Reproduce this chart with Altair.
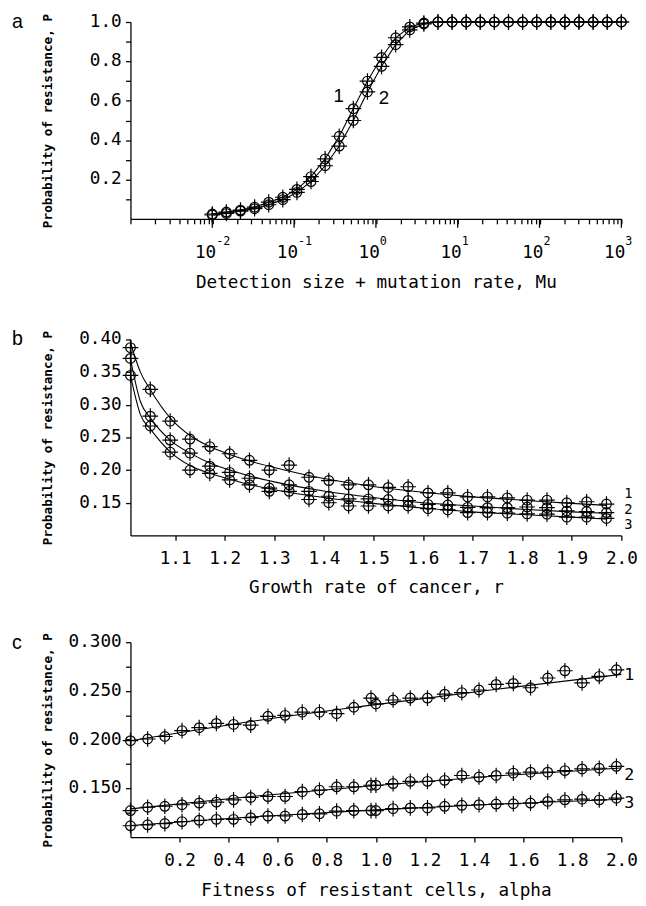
import altair as alt
import pandas as pd

FONT = "DejaVu Sans Mono"
W = 501

# ---------------- panel a ----------------
a_mu = [0.01, 0.01486, 0.02212, 0.0329, 0.04894, 0.07279, 0.1083, 0.161, 0.2395, 0.3562,
        0.5298, 0.788, 1.172, 1.743, 2.593, 3.857, 5.736, 8.532, 12.69, 18.87,
        28.07, 41.75, 62.1, 92.37, 137.4, 204.3, 303.9, 452.0, 672.3, 1000.0]
a_p1 = [0.025, 0.035, 0.045, 0.06, 0.085, 0.11, 0.15, 0.215, 0.305, 0.42,
        0.56, 0.70, 0.82, 0.92, 0.975, 0.995, 1.0, 1.0, 1.0, 1.0,
        1.0, 1.0, 1.0, 1.0, 1.0, 1.0, 1.0, 1.0, 1.0, 1.0]
a_p2 = [0.02, 0.028, 0.04, 0.052, 0.072, 0.098, 0.135, 0.19, 0.27, 0.37,
        0.50, 0.645, 0.775, 0.885, 0.96, 0.99, 1.0, 1.0, 1.0, 1.0,
        1.0, 1.0, 1.0, 1.0, 1.0, 1.0, 1.0, 1.0, 1.0, 1.0]
a_lab_text = ["1", "2"]
a_lab_mu = [0.35, 1.25]
a_lab_p = [0.625, 0.615]
a_decades = [0.01, 0.1, 1.0, 10.0, 100.0, 1000.0]
a_exps = ["-2", "-1", "0", "1", "2", "3"]
a_minor = [m * d for d in [0.001, 0.01, 0.1, 1, 10, 100] for m in range(1, 10)] + [1000.0]
a_yticks = [0.1, 0.2, 0.3, 0.4, 0.5, 0.6, 0.7, 0.8, 0.9, 1.0]
a_ylabels = [0.2, 0.4, 0.6, 0.8, 1.0]

# ---------------- panel b ----------------
b_r = [1.01, 1.05, 1.09, 1.13, 1.17, 1.21, 1.25, 1.29, 1.33, 1.37, 1.41, 1.45, 1.49,
       1.53, 1.57, 1.61, 1.65, 1.69, 1.73, 1.77, 1.81, 1.85, 1.89, 1.93, 1.97]
b_p1 = [0.3875, 0.3235, 0.275, 0.2475, 0.236, 0.225, 0.215, 0.200, 0.2075, 0.189, 0.184, 0.1775, 0.1775,
        0.1735, 0.1745, 0.165, 0.165, 0.159, 0.159, 0.1575, 0.154, 0.154, 0.150, 0.1515, 0.148]
b_p2 = [0.371, 0.2825, 0.246, 0.226, 0.206, 0.1965, 0.1875, 0.1725, 0.1775, 0.1675, 0.160, 0.156, 0.156,
        0.155, 0.1535, 0.1475, 0.1465, 0.143, 0.1425, 0.1425, 0.1435, 0.1425, 0.1375, 0.1365, 0.135]
b_p3 = [0.345, 0.2675, 0.2275, 0.200, 0.195, 0.185, 0.1775, 0.1675, 0.1675, 0.155, 0.150, 0.145, 0.145,
        0.145, 0.145, 0.141, 0.139, 0.135, 0.135, 0.134, 0.133, 0.1325, 0.128, 0.128, 0.126]
b_line_r = [1.01, 1.03, 1.05, 1.09, 1.13, 1.17, 1.21, 1.25, 1.3, 1.4, 1.5, 1.6, 1.7, 1.8, 1.9, 1.97]
b_line1 = [0.395, 0.35, 0.323, 0.28, 0.253, 0.236, 0.224, 0.214, 0.204, 0.187, 0.175, 0.166, 0.159, 0.154, 0.149, 0.146]
b_line2 = [0.37, 0.305, 0.28, 0.246, 0.226, 0.211, 0.2, 0.191, 0.182, 0.168, 0.158, 0.15, 0.145, 0.14, 0.136, 0.134]
b_line3 = [0.345, 0.285, 0.263, 0.228, 0.207, 0.195, 0.186, 0.178, 0.17, 0.158, 0.149, 0.142, 0.136, 0.132, 0.128, 0.125]
b_lab_text = ["1", "2", "3"]
b_lab_p = [0.164, 0.139, 0.116]
b_yticks = [0.15, 0.20, 0.25, 0.30, 0.35, 0.40]
b_xticks = [1.1, 1.2, 1.3, 1.4, 1.5, 1.6, 1.7, 1.8, 1.9, 2.0]

# ---------------- panel c ----------------
c_alpha = [0.0, 0.07, 0.14, 0.21, 0.28, 0.35, 0.42, 0.49, 0.56, 0.63, 0.70, 0.77, 0.84, 0.91, 0.98,
           1.0, 1.07, 1.14, 1.21, 1.28, 1.35, 1.42, 1.49, 1.56, 1.63, 1.70, 1.77, 1.84, 1.91, 1.98]
c_p1 = [0.199, 0.2007, 0.2033, 0.2093, 0.2123, 0.2167, 0.2157, 0.215, 0.224, 0.225, 0.2283, 0.2283, 0.2267, 0.2333, 0.2427,
        0.2367, 0.2407, 0.2427, 0.2427, 0.2467, 0.2483, 0.251, 0.2567, 0.2577, 0.2533, 0.2633, 0.2707, 0.2583, 0.265, 0.2717]
c_p2 = [0.1273, 0.1307, 0.1317, 0.1333, 0.135, 0.136, 0.1383, 0.1407, 0.1417, 0.1417, 0.1467, 0.1483, 0.1517, 0.1517, 0.1533,
        0.1533, 0.155, 0.1573, 0.1573, 0.1583, 0.1633, 0.1617, 0.1633, 0.1657, 0.1667, 0.1667, 0.1683, 0.17, 0.1707, 0.1727]
c_p3 = [0.1117, 0.1127, 0.114, 0.116, 0.1173, 0.1183, 0.1183, 0.12, 0.1217, 0.1217, 0.1233, 0.124, 0.1267, 0.1273, 0.1273,
        0.1273, 0.1293, 0.13, 0.13, 0.1317, 0.1327, 0.1333, 0.134, 0.1343, 0.135, 0.1367, 0.1383, 0.139, 0.1383, 0.14]
c_line_alpha = [0.0, 0.5, 1.0, 1.5, 2.0]
c_line1 = [0.199, 0.219, 0.236, 0.252, 0.267]
c_line2 = [0.129, 0.142, 0.153, 0.163, 0.171]
c_line3 = [0.112, 0.121, 0.128, 0.134, 0.139]
c_lab_text = ["1", "2", "3"]
c_lab_p = [0.2667, 0.1633, 0.135]
c_yticks = [0.125, 0.15, 0.175, 0.20, 0.225, 0.25, 0.275, 0.30]
c_ylabels = [0.15, 0.20, 0.25, 0.30]
c_xticks = [0.2, 0.4, 0.6, 0.8, 1.0, 1.2, 1.4, 1.6, 1.8, 2.0]

MARKER = ("M-0.62,0A0.62,0.62,0,1,0,0.62,0A0.62,0.62,0,1,0,-0.62,0"
          "M-1,0L1,0M0,-1L0,1")

AX_STYLE = dict(domainColor="black", tickColor="black", labelColor="black", titleColor="black",
                labelFont=FONT, titleFont=FONT, labelFontSize=18, domainWidth=1.3, tickWidth=1.3,
                grid=False, labelOverlap=False, labelFlush=False, labelBound=False)


def long_df(xs, series):
    rows = []
    for name, ys in series.items():
        for x, y in zip(xs, ys):
            rows.append({"x": x, "y": y, "s": name})
    return pd.DataFrame(rows)


def yaxis(values, H):
    return alt.Axis(values=values, labels=False, tickSize=5,
                    title="Probability of resistance, P", titleFontSize=13, titleFontWeight="bold",
                    titleX=-85, titleY=H / 2, titleAngle=270, titleBaseline="middle", titleAlign="center",
                    **AX_STYLE)


def xaxis(values, title, ty, labels=True, fmt=".1f"):
    kw = dict(values=values, tickSize=5, labelPadding=10, title=title, titleFontSize=18,
              titleFontWeight="normal", titleY=ty, titleBaseline="middle", titleAlign="center")
    if labels:
        kw["format"] = fmt
    else:
        kw["labels"] = False
    kw.update(AX_STYLE)
    return alt.Axis(**kw)


def panel(pts, lines, xs, ys, xax, yax, H, letter, letter_y, ylabel_vals, yfmt,
          series_lab=None, a_extra=False, interp="linear"):
    X = alt.X("x:Q", scale=xs, axis=xax)
    Y = alt.Y("y:Q", scale=ys, axis=yax)
    ln = alt.Chart(lines).mark_line(color="black", strokeWidth=1.1, interpolate=interp).encode(
        x=X, y=Y, detail="s:N")
    pt = alt.Chart(pts).mark_point(shape=MARKER, size=256, filled=False, color="black",
                                   strokeWidth=1.2, opacity=1).encode(x=X, y=Y, detail="s:N")
    let = alt.Chart(pd.DataFrame({"t": [letter]})).mark_text(
        font="Liberation Sans", fontSize=20, align="left", baseline="alphabetic", color="black").encode(
        text="t:N", x=alt.value(-121), y=alt.value(letter_y))
    ylab = alt.Chart(pd.DataFrame({"y": ylabel_vals})).mark_text(
        font=FONT, fontSize=18, align="right", baseline="middle", color="black").encode(
        x=alt.value(-9), y=Y, text=alt.Text("y:Q", format=yfmt))
    layers = [ln, pt, let, ylab]
    if series_lab is not None:
        txt, yv, fs = series_lab
        layers.append(alt.Chart(pd.DataFrame({"y": yv, "t": txt})).mark_text(
            font=FONT, fontSize=fs, align="left", baseline="middle", color="black").encode(
            x=alt.value(W + 3), y=Y, text="t:N"))
    if a_extra:
        dec_df = pd.DataFrame({"x": a_decades, "e": a_exps})
        layers.append(alt.Chart(dec_df).mark_rule(color="black", strokeWidth=1.3).encode(
            x=X, y=alt.value(H), y2=alt.value(H + 9)))
        layers.append(alt.Chart(dec_df).mark_text(font=FONT, fontSize=18, align="right",
                                                  baseline="middle", dx=4, color="black").encode(
            x=X, y=alt.value(H + 35), text=alt.value("10")))
        layers.append(alt.Chart(dec_df).mark_text(font=FONT, fontSize=12, align="left",
                                                  baseline="middle", dx=4, color="black").encode(
            x=X, y=alt.value(H + 23), text="e:N"))
        layers.append(alt.Chart(pd.DataFrame({"x": a_lab_mu, "y": a_lab_p, "t": a_lab_text})).mark_text(
            font="Liberation Sans", fontSize=19, baseline="middle", color="black").encode(
            x=X, y=Y, text="t:N"))
    return alt.layer(*layers).properties(width=W, height=H)


# ----- panel a
Ha = 201
xs_a = alt.Scale(type="log", domain=[0.001, 1000], nice=False)
ys_a = alt.Scale(domain=[0, 1], nice=False, zero=False)
pts_a = long_df(a_mu, {"1": a_p1, "2": a_p2})
chart_a = panel(pts_a, pts_a, xs_a, ys_a,
                xaxis(a_minor, "Detection size + mutation rate, Mu", 65, labels=False),
                yaxis(a_yticks, Ha), Ha, "a", 6, a_ylabels, ".1f", a_extra=True)

# ----- panel b
Hb = 200
xs_b = alt.Scale(domain=[1.01, 2.0], nice=False, zero=False)
ys_b = alt.Scale(domain=[0.10, 0.40], nice=False, zero=False)
pts_b = long_df(b_r, {"1": b_p1, "2": b_p2, "3": b_p3})
lines_b = long_df(b_line_r, {"1": b_line1, "2": b_line2, "3": b_line3})
chart_b = panel(pts_b, lines_b, xs_b, ys_b,
                xaxis(b_xticks, "Growth rate of cancer, r", 53),
                yaxis(b_yticks, Hb), Hb, "b", 6, b_yticks, ".2f",
                series_lab=(b_lab_text, b_lab_p, 14), interp="monotone")

# ----- panel c
Hc = 199
xs_c = alt.Scale(domain=[0.0, 2.0], nice=False, zero=False)
ys_c = alt.Scale(domain=[0.10, 0.30], nice=False, zero=False)
pts_c = long_df(c_alpha, {"1": c_p1, "2": c_p2, "3": c_p3})
lines_c = long_df(c_line_alpha, {"1": c_line1, "2": c_line2, "3": c_line3})
chart_c = panel(pts_c, lines_c, xs_c, ys_c,
                xaxis(c_xticks, "Fitness of resistant cells, alpha", 55),
                yaxis(c_yticks, Hc), Hc, "c", 7, c_ylabels, ".3f",
                series_lab=(c_lab_text, c_lab_p, 17), interp="monotone")

inner = alt.vconcat(chart_b, chart_c, spacing=109, bounds="flush")
chart = alt.vconcat(chart_a, inner, spacing=123, bounds="flush").properties(
    padding={"left": 4, "top": -6, "right": 0, "bottom": 0}, background="white"
).configure_view(stroke=None)

chart.save("out.html", embed_options={"renderer": "svg", "actions": False})
